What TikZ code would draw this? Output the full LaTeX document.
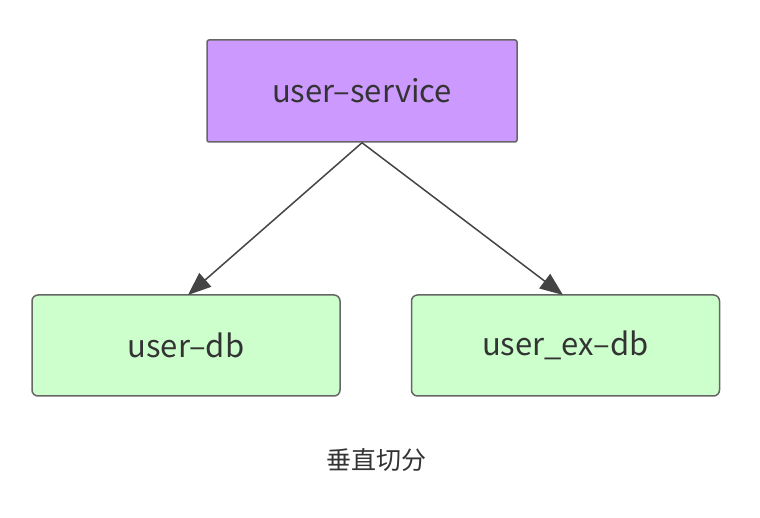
\documentclass[tikz,border=0pt]{standalone}
\usepackage{fontspec}
\setmainfont{Noto Sans CJK SC}
\usetikzlibrary{arrows.meta}
\definecolor{purplefill}{HTML}{CC99FF}
\definecolor{greenfill}{HTML}{CCFFCC}
\definecolor{boxline}{HTML}{666666}
\definecolor{arrowline}{HTML}{444444}
\definecolor{txt}{HTML}{333333}
\begin{document}
\begin{tikzpicture}[x=1pt,y=1pt,
  box/.style={draw=boxline, line width=1.5pt, minimum width=308pt, minimum height=101pt, inner sep=0pt, text=txt, font=\fontsize{31}{36}\selectfont},
  topbox/.style={box, fill=purplefill, rounded corners=2pt, minimum width=310pt, minimum height=102pt},
  dbbox/.style={box, fill=greenfill, rounded corners=6pt},
  conn/.style={draw=arrowline, line width=1.5pt, -{Triangle[length=23pt,width=18pt]}}]
\useasboundingbox (0,0) rectangle (760,518);
\node[topbox] (svc) at (362,427) {user–service};
\node[dbbox] (db) at (186,172.5) {user–db};
\node[dbbox] (exdb) at (565.5,172.5) {user\_ex–db};
\node[font=\fontsize{25}{30}\selectfont, text=txt] (cap) at (376,58) {垂直切分};
\coordinate (dbt) at (188,223);
\coordinate (exdbt) at (563,223);
\draw[conn] (svc.south) -- (dbt);
\draw[conn] (svc.south) -- (exdbt);
\end{tikzpicture}
\end{document}
